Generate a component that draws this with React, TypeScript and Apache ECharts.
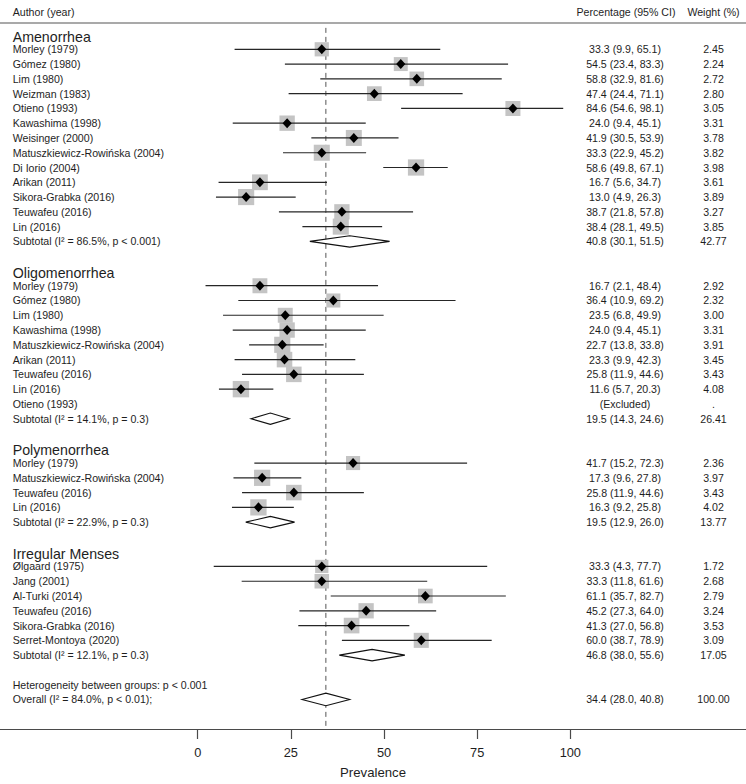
import React, { useEffect, useRef } from "react";
import * as echarts from "echarts";

// ---------- DATA ----------
const groupNames = ["Amenorrhea", "Oligomenorrhea", "Polymenorrhea", "Irregular Menses"];

// [study, estimate %, lower 95% CI, upper 95% CI, weight %]
type Study = [string, number, number, number, number];

const amenorrhea: Study[] = [
  ["Morley (1979)", 33.3, 9.9, 65.1, 2.45],
  ["Gómez (1980)", 54.5, 23.4, 83.3, 2.24],
  ["Lim (1980)", 58.8, 32.9, 81.6, 2.72],
  ["Weizman (1983)", 47.4, 24.4, 71.1, 2.8],
  ["Otieno (1993)", 84.6, 54.6, 98.1, 3.05],
  ["Kawashima (1998)", 24.0, 9.4, 45.1, 3.31],
  ["Weisinger (2000)", 41.9, 30.5, 53.9, 3.78],
  ["Matuszkiewicz-Rowińska (2004)", 33.3, 22.9, 45.2, 3.82],
  ["Di Iorio (2004)", 58.6, 49.8, 67.1, 3.98],
  ["Arikan (2011)", 16.7, 5.6, 34.7, 3.61],
  ["Sikora-Grabka (2016)", 13.0, 4.9, 26.3, 3.89],
  ["Teuwafeu (2016)", 38.7, 21.8, 57.8, 3.27],
  ["Lin (2016)", 38.4, 28.1, 49.5, 3.85],
];

const oligomenorrhea: Study[] = [
  ["Morley (1979)", 16.7, 2.1, 48.4, 2.92],
  ["Gómez (1980)", 36.4, 10.9, 69.2, 2.32],
  ["Lim (1980)", 23.5, 6.8, 49.9, 3.0],
  ["Kawashima (1998)", 24.0, 9.4, 45.1, 3.31],
  ["Matuszkiewicz-Rowińska (2004)", 22.7, 13.8, 33.8, 3.91],
  ["Arikan (2011)", 23.3, 9.9, 42.3, 3.45],
  ["Teuwafeu (2016)", 25.8, 11.9, 44.6, 3.43],
  ["Lin (2016)", 11.6, 5.7, 20.3, 4.08],
];
const oligomenorrheaExcluded = ["Otieno (1993)"];

const polymenorrhea: Study[] = [
  ["Morley (1979)", 41.7, 15.2, 72.3, 2.36],
  ["Matuszkiewicz-Rowińska (2004)", 17.3, 9.6, 27.8, 3.97],
  ["Teuwafeu (2016)", 25.8, 11.9, 44.6, 3.43],
  ["Lin (2016)", 16.3, 9.2, 25.8, 4.02],
];

const irregularMenses: Study[] = [
  ["Ølgaard (1975)", 33.3, 4.3, 77.7, 1.72],
  ["Jang (2001)", 33.3, 11.8, 61.6, 2.68],
  ["Al-Turki (2014)", 61.1, 35.7, 82.7, 2.79],
  ["Teuwafeu (2016)", 45.2, 27.3, 64.0, 3.24],
  ["Sikora-Grabka (2016)", 41.3, 27.0, 56.8, 3.53],
  ["Serret-Montoya (2020)", 60.0, 38.7, 78.9, 3.09],
];

// [estimate, lower, upper, weight, I², p]
const subtotals: [number, number, number, number, string, string][] = [
  [40.8, 30.1, 51.5, 42.77, "86.5%", "p < 0.001"],
  [19.5, 14.3, 24.6, 26.41, "14.1%", "p = 0.3"],
  [19.5, 12.9, 26.0, 13.77, "22.9%", "p = 0.3"],
  [46.8, 38.0, 55.6, 17.05, "12.1%", "p = 0.3"],
];

const overall: [number, number, number, number, string, string] = [34.4, 28.0, 40.8, 100.0, "84.0%", "p < 0.01"];
const heterogeneityText = "Heterogeneity between groups: p < 0.001";
const xTicks = [0, 25, 50, 75, 100];

// ---------- LAYOUT ----------
const W = 746;
const H = 784;
const FONT = '"Liberation Sans", Arial, Helvetica, sans-serif';
const TEXT = "#1e1e1e";
const labelX = 12.7;
const ciColX = 625;
const wColX = 713.5;
const zeroPx = 197.7;
const pxPerUnit = 3.726;
const xMin = -zeroPx / pxPerUnit;
const xMax = (W - zeroPx) / pxPerUnit;
const gridTop = 22.7;
const gridBottom = H - 733.3;
const yMin = -0.8;
const yMax = 47.0;

type Row = {
  row: number;
  kind: "header" | "study" | "excluded" | "subtotal" | "het" | "overall";
  label: string;
  est?: number;
  lo?: number;
  hi?: number;
  w?: number;
};

function buildRows(): Row[] {
  const rows: Row[] = [];
  const groups = [amenorrhea, oligomenorrhea, polymenorrhea, irregularMenses];
  const excluded = [[], oligomenorrheaExcluded, [], []];
  let r = 0;
  groups.forEach((studies, gi) => {
    rows.push({ row: r++, kind: "header", label: groupNames[gi] });
    studies.forEach((s) => rows.push({ row: r++, kind: "study", label: s[0], est: s[1], lo: s[2], hi: s[3], w: s[4] }));
    excluded[gi].forEach((name: string) => rows.push({ row: r++, kind: "excluded", label: name }));
    const st = subtotals[gi];
    rows.push({ row: r++, kind: "subtotal", label: `Subtotal (I² = ${st[4]}, ${st[5]})`, est: st[0], lo: st[1], hi: st[2], w: st[3] });
    r++;
  });
  rows.push({ row: r++, kind: "het", label: heterogeneityText });
  rows.push({ row: r++, kind: "overall", label: `Overall (I² = ${overall[4]}, ${overall[5]});`, est: overall[0], lo: overall[1], hi: overall[2], w: overall[3] });
  return rows;
}

const rows = buildRows();

function txt(text: string, x: number, y: number, size: number, align: string) {
  return {
    type: "text",
    x,
    y,
    style: { text, fontSize: size, fontFamily: FONT, fill: TEXT, align, verticalAlign: "middle" },
  };
}

export default function App() {
  const ref = useRef<HTMLDivElement>(null);
  useEffect(() => {
    if (!ref.current) return;
    const chart = echarts.init(ref.current, undefined, { renderer: "svg" });

    const renderRow = (params: any, api: any) => {
      const row = rows[params.dataIndex];
      const y = api.coord([0, row.row])[1];
      const children: any[] = [];
      const fs = 10.6;
      if (row.kind === "header") {
        children.push(txt(row.label, labelX, y + 2, 14.2, "left"));
      } else if (row.kind === "het") {
        children.push(txt(row.label, labelX, y, fs, "left"));
      } else if (row.kind === "excluded") {
        children.push(txt(row.label, labelX, y, fs, "left"));
        children.push(txt("(Excluded)", ciColX, y, fs, "center"));
        children.push(txt(".", wColX, y, fs, "center"));
      } else {
        const est = row.est as number;
        const lo = row.lo as number;
        const hi = row.hi as number;
        const cx = api.coord([est, row.row])[0];
        const xl = api.coord([lo, row.row])[0];
        const xh = api.coord([hi, row.row])[0];
        children.push(txt(row.label, labelX, y, fs, "left"));
        if (row.kind === "study") {
          const s = 11 + 1.32 * (row.w as number);
          children.push({ type: "rect", shape: { x: cx - s / 2, y: y - s / 2, width: s, height: s }, style: { fill: "#c4c4c4" } });
          children.push({ type: "line", shape: { x1: xl, y1: y, x2: xh, y2: y }, style: { stroke: "#262626", lineWidth: 1.2 } });
          children.push({
            type: "polygon",
            shape: { points: [[cx - 4.6, y], [cx, y - 5], [cx + 4.6, y], [cx, y + 5]] },
            style: { fill: "#000" },
          });
        } else {
          const hh = row.kind === "overall" ? 6.3 : 5.7;
          children.push({
            type: "polygon",
            shape: { points: [[xl, y], [cx, y - hh], [xh, y], [cx, y + hh]] },
            style: { fill: "#fff", stroke: "#111", lineWidth: 1.1 },
          });
        }
        children.push(txt(`${est.toFixed(1)} (${lo.toFixed(1)}, ${hi.toFixed(1)})`, ciColX, y, fs, "center"));
        children.push(txt((row.w as number).toFixed(2), wColX, y, fs, "center"));
      }
      return { type: "group", children };
    };

    chart.setOption({
      animation: false,
      backgroundColor: "#fff",
      textStyle: { fontFamily: FONT },
      grid: { left: 0, right: 0, top: gridTop, bottom: gridBottom, containLabel: false },
      xAxis: [
        {
          type: "value",
          min: xMin,
          max: xMax,
          position: "bottom",
          axisLine: { show: true, onZero: false, lineStyle: { color: "#4a4a4a", width: 1.2 } },
          axisTick: { show: true, length: 10, customValues: xTicks, lineStyle: { color: "#4a4a4a", width: 1.2 } },
          axisLabel: { customValues: xTicks, margin: 17, fontSize: 12.8, color: TEXT, fontFamily: FONT },
          splitLine: { show: false },
          name: "Prevalence",
          nameLocation: "middle",
          nameGap: 37,
          nameTextStyle: { fontSize: 13.2, color: TEXT, fontFamily: FONT },
        },
        {
          type: "value",
          min: xMin,
          max: xMax,
          position: "top",
          axisLine: { show: true, onZero: false, lineStyle: { color: "#8c8c8c", width: 1.5 } },
          axisTick: { show: false },
          axisLabel: { show: false },
          splitLine: { show: false },
        },
      ],
      yAxis: {
        type: "value",
        inverse: true,
        min: yMin,
        max: yMax,
        show: false,
      },
      graphic: [
        { type: "text", x: labelX, y: 12, style: { text: "Author (year)", fontSize: 10.6, fontFamily: FONT, fill: TEXT, align: "left", verticalAlign: "middle" } },
        { type: "text", x: ciColX + 1, y: 12, style: { text: "Percentage (95% CI)", fontSize: 10.6, fontFamily: FONT, fill: TEXT, align: "center", verticalAlign: "middle" } },
        { type: "text", x: wColX, y: 12, style: { text: "Weight (%)", fontSize: 10.6, fontFamily: FONT, fill: TEXT, align: "center", verticalAlign: "middle" } },
      ],
      series: [
        {
          type: "custom",
          xAxisIndex: 0,
          renderItem: (params: any, api: any) => {
            const p1 = api.coord([api.value(0), -0.45]);
            const p2 = api.coord([api.value(0), yMax]);
            return {
              type: "line",
              shape: { x1: p1[0], y1: p1[1], x2: p2[0], y2: p2[1] },
              style: { stroke: "#555", lineWidth: 1, lineDash: [5, 4] },
            };
          },
          data: [[overall[0], 0]],
          encode: { x: 0, y: 1 },
          silent: true,
          z: 1,
        },
        {
          type: "custom",
          xAxisIndex: 0,
          renderItem: renderRow,
          data: rows.map((r) => [r.est ?? 0, r.row]),
          encode: { x: 0, y: 1 },
          silent: true,
          clip: false,
          z: 2,
        },
      ],
    });
    return () => chart.dispose();
  }, []);

  return <div ref={ref} style={{ position: "absolute", left: 0, top: 0, width: W, height: H }} />;
}
